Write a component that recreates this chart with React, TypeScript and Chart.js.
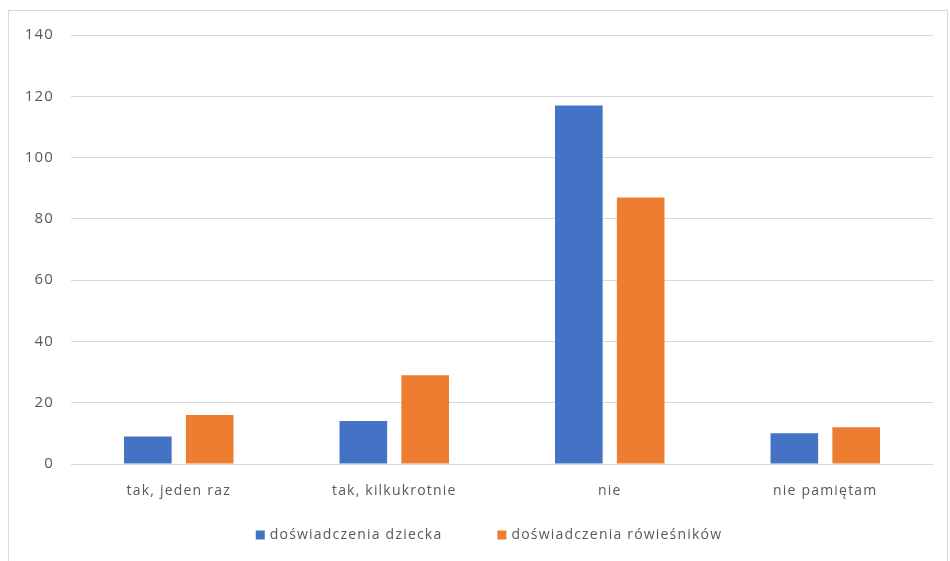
import React, { useEffect, useRef } from "react";
import { Chart, registerables } from "chart.js";

Chart.register(...registerables);

const categories = ["tak, jeden raz", "tak, kilkukrotnie", "nie", "nie pamiętam"];
const seriesNames = ["doświadczenia dziecka", "doświadczenia rówieśników"];
const childValues = [9, 14, 117, 10];
const peerValues = [16, 29, 87, 12];
const colors = ["#4472C4", "#ED7D31"];

const FONT = "'Open Sans', 'Noto Sans', sans-serif";
const TEXT_COLOR = "#595959";
const SPACING = "1.2px";

const spacingPlugin = {
  id: "letterSpacing",
  beforeLayout(chart: any) {
    chart.ctx.letterSpacing = SPACING;
  },
  beforeDraw(chart: any) {
    chart.ctx.letterSpacing = SPACING;
  },
};

const legendPlugin = {
  id: "customLegend",
  afterDraw(chart: any) {
    const ctx = chart.ctx;
    ctx.save();
    ctx.letterSpacing = SPACING;
    ctx.font = `14px ${FONT}`;
    ctx.textBaseline = "middle";
    ctx.textAlign = "left";
    const box = 9;
    const gapBoxText = 5;
    const itemGap = 55;
    const items = chart.data.datasets.map((d: any) => ({
      text: d.label,
      color: d.backgroundColor,
      w: ctx.measureText(d.label).width,
    }));
    const total =
      items.reduce((s: number, it: any) => s + box + gapBoxText + it.w, 0) + itemGap * (items.length - 1);
    const center = (chart.chartArea.left + chart.chartArea.right) / 2 - 13;
    let x = center - total / 2;
    const y = chart.chartArea.bottom + 71;
    items.forEach((it: any) => {
      ctx.fillStyle = it.color;
      ctx.fillRect(x, y - box / 2, box, box);
      x += box + gapBoxText;
      ctx.fillStyle = TEXT_COLOR;
      ctx.fillText(it.text, x, y);
      x += it.w + itemGap;
    });
    ctx.restore();
  },
};

export default function App() {
  const ref = useRef<HTMLCanvasElement | null>(null);
  useEffect(() => {
    document.body.style.margin = "0";
    const chart = new Chart(ref.current!, {
      type: "bar",
      data: {
        labels: categories,
        datasets: [
          {
            label: seriesNames[0],
            data: childValues,
            backgroundColor: colors[0],
            categoryPercentage: 0.574,
            barPercentage: 0.77,
          },
          {
            label: seriesNames[1],
            data: peerValues,
            backgroundColor: colors[1],
            categoryPercentage: 0.574,
            barPercentage: 0.77,
          },
        ],
      },
      plugins: [spacingPlugin, legendPlugin],
      options: {
        animation: false,
        responsive: false,
        maintainAspectRatio: false,
        layout: { padding: { left: 0, right: 17, top: 35, bottom: 49 } },
        plugins: {
          tooltip: { enabled: false },
          legend: { display: false },
        },
        scales: {
          x: {
            grid: { display: false, drawTicks: false },
            border: { display: false },
            ticks: {
              color: TEXT_COLOR,
              padding: 19,
              font: { family: FONT, size: 14 },
            },
            afterFit: (s: any) => {
              s.height = 48;
            },
          },
          y: {
            min: 0,
            max: 140,
            ticks: {
              stepSize: 20,
              color: TEXT_COLOR,
              padding: 17,
              font: { family: FONT, size: 15 },
            },
            grid: { color: "#d9d9d9", lineWidth: 1, drawTicks: false },
            border: { display: false },
            afterFit: (s: any) => {
              s.width = 71;
            },
          },
        },
      },
    });
    return () => chart.destroy();
  }, []);
  return (
    <div style={{ position: "relative", width: 950, height: 561, background: "#fff" }}>
      <div
        style={{
          position: "absolute",
          left: 8,
          top: 10,
          width: 938,
          height: 560,
          borderLeft: "1px solid #d9d9d9",
          borderTop: "1px solid #d9d9d9",
          borderRight: "1px solid #d9d9d9",
        }}
      />
      <canvas ref={ref} width={950} height={561} style={{ position: "absolute", left: 0, top: 0 }} />
    </div>
  );
}
